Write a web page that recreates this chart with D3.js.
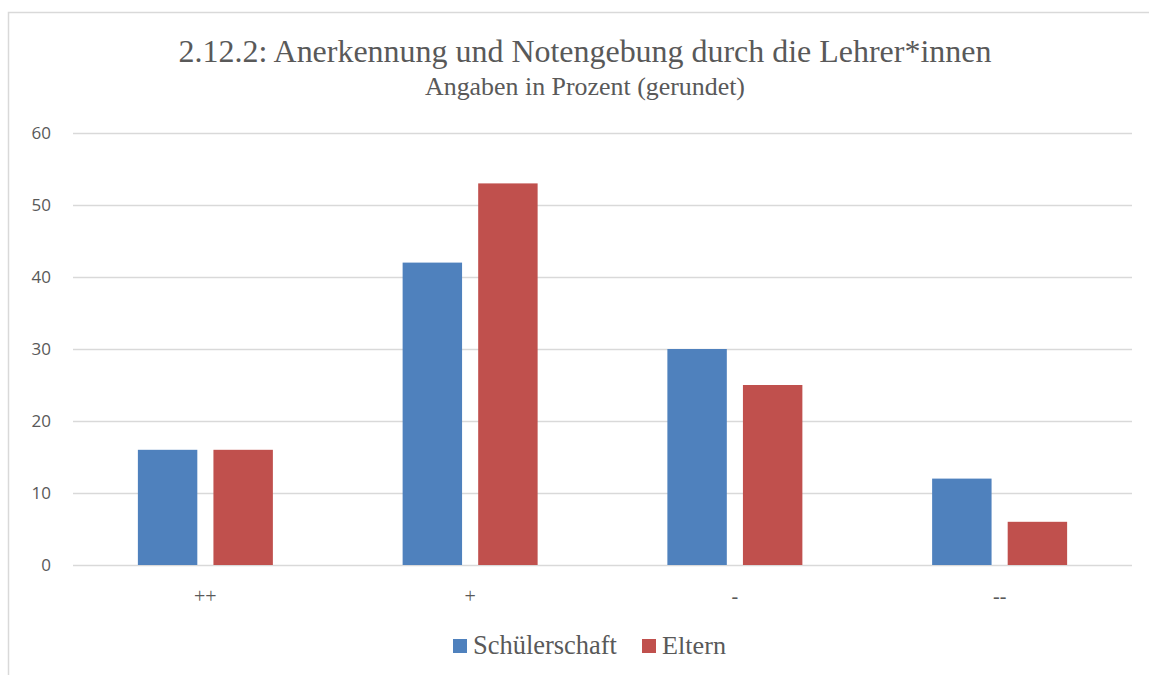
<!DOCTYPE html>
<html>
<head>
<meta charset="utf-8">
<script src="https://cdn.jsdelivr.net/npm/d3@7"></script>
<style>
  body { margin: 0; background: #fff; }
  .serif { font-family: "Liberation Serif", "Times New Roman", serif; }
</style>
</head>
<body>
<div id="chart"></div>
<script>
var categories = ["++", "+", "-", "--"];
var seriesNames = ["Schülerschaft", "Eltern"];
var schueler = [16, 42, 30, 12];
var eltern = [16, 53, 25, 6];
var yTicks = [0, 10, 20, 30, 40, 50, 60];
var colors = ["#4f81bd", "#c0504d"];

var W = 1149, H = 675;
var margin = {top: 133, right: 17, bottom: 110, left: 73},
    width = W - margin.left - margin.right,
    height = 565 - margin.top;

var svg = d3.select("#chart")
  .append("svg")
    .attr("width", W)
    .attr("height", H);

// shrink/grow a text so it spans the given width
function fit(sel, w) {
  var size = parseFloat(sel.style("font-size"));
  var len = sel.node().getComputedTextLength();
  sel.style("font-size", (size * w / len).toFixed(2) + "px");
}

// chart frame
svg.append("rect")
  .attr("x", 8.5).attr("y", 12.5)
  .attr("width", W + 10).attr("height", H + 10)
  .attr("fill", "none")
  .attr("stroke", "#d9d9d9")
  .attr("stroke-width", 1.5);

svg.append("text")
  .attr("class", "serif")
  .attr("x", 585).attr("y", 62)
  .attr("text-anchor", "middle")
  .style("font-size", "32px")
  .style("fill", "#595959")
  .text("2.12.2: Anerkennung und Notengebung durch die Lehrer*innen")
  .call(fit, 813);

svg.append("text")
  .attr("class", "serif")
  .attr("x", 585).attr("y", 95)
  .attr("text-anchor", "middle")
  .style("font-size", "22px")
  .style("fill", "#595959")
  .text("Angaben in Prozent (gerundet)")
  .call(fit, 320);

var g = svg.append("g")
  .attr("transform", "translate(" + margin.left + "," + margin.top + ")");

var y = d3.scaleLinear().domain([0, 60]).range([height, 0]);
var x = d3.scaleBand().domain(categories).range([0, width]);
var xs = d3.scaleBand().domain(seriesNames)
  .range([x.bandwidth() / 2 - 67.5, x.bandwidth() / 2 + 67.5])
  .paddingInner(16 / 75);

// gridlines
g.append("g")
  .call(d3.axisLeft(y).tickValues(yTicks).tickSize(-width).tickFormat(""))
  .call(function (a) { a.select(".domain").remove(); })
  .selectAll("line")
    .attr("stroke", "#d9d9d9")
    .attr("stroke-width", 1.3);

// y labels
g.append("g")
  .call(d3.axisLeft(y).tickValues(yTicks).tickSize(0).tickPadding(22))
  .call(function (a) { a.select(".domain").remove(); })
  .selectAll("text")
    .attr("font-family", "'Open Sans', sans-serif")
    .attr("font-size", "17px")
    .attr("fill", "#595959");

var rows = categories.map(function (c, i) {
  return {cat: c, values: [schueler[i], eltern[i]]};
});

var groups = g.selectAll(".grp")
  .data(rows)
  .enter()
  .append("g")
    .attr("transform", function (d) { return "translate(" + x(d.cat) + ",0)"; });

groups.selectAll("rect")
  .data(function (d) { return d.values.map(function (v, i) { return {s: seriesNames[i], v: v, i: i}; }); })
  .enter()
  .append("rect")
    .attr("x", function (d) { return xs(d.s); })
    .attr("y", function (d) { return y(d.v); })
    .attr("width", xs.bandwidth())
    .attr("height", function (d) { return height - y(d.v); })
    .attr("fill", function (d) { return colors[d.i]; });

// x labels
g.append("g")
  .attr("transform", "translate(0," + height + ")")
  .call(d3.axisBottom(x).tickSize(0).tickPadding(24))
  .call(function (a) { a.select(".domain").remove(); })
  .selectAll("text")
    .attr("class", "serif")
    .attr("font-family", null)
    .attr("font-size", "20px")
    .attr("fill", "#595959");

// legend
var legendX = [453, 642];
var legendW = [144, 64];
var legend = svg.selectAll(".leg")
  .data(seriesNames)
  .enter()
  .append("g")
    .attr("transform", function (d, i) { return "translate(" + legendX[i] + ",639)"; });

legend.append("rect")
  .attr("width", 14).attr("height", 14)
  .attr("fill", function (d, i) { return colors[i]; });

legend.append("text")
  .attr("class", "serif")
  .attr("x", 20).attr("y", 15)
  .style("font-size", "24px")
  .style("fill", "#595959")
  .text(function (d) { return d; })
  .each(function (d, i) { d3.select(this).call(fit, legendW[i]); });
</script>
</body>
</html>
